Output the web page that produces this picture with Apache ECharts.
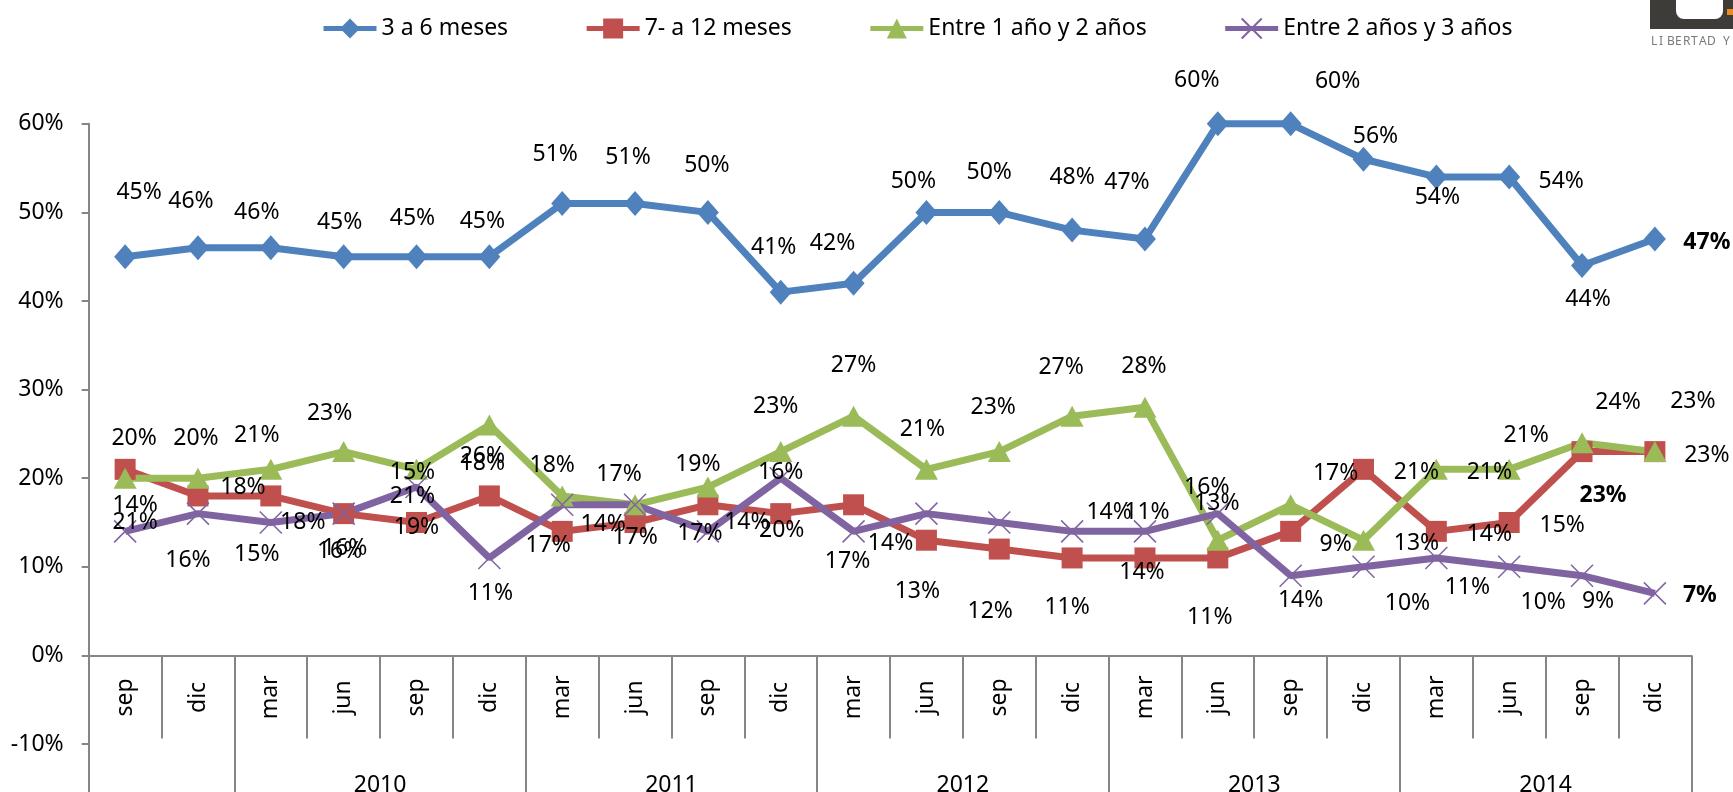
<!DOCTYPE html>
<html>
<head>
<meta charset="utf-8">
<title>Duración</title>
<script src="https://cdn.jsdelivr.net/npm/echarts@6/dist/echarts.min.js"></script>
<style>
html, body { margin: 0; padding: 0; background: #fff; }
#chart { width: 1733px; height: 792px; }
</style>
</head>
<body>
<div id="chart"></div>
<script>
// categorías (trimestres) y agrupación por año
const months = ['sep', 'dic', 'mar', 'jun', 'sep', 'dic', 'mar', 'jun', 'sep', 'dic', 'mar', 'jun',
  'sep', 'dic', 'mar', 'jun', 'sep', 'dic', 'mar', 'jun', 'sep', 'dic']
const yearNames = ['', '2010', '2011', '2012', '2013', '2014']
const yearSpans = [2, 4, 4, 4, 4, 4]

// series (%)
const seriesNames = ['3 a 6 meses', '7- a 12 meses', 'Entre 1 año y 2 años', 'Entre 2 años y 3 años']
const meses3a6 = [45, 46, 46, 45, 45, 45, 51, 51, 50, 41, 42, 50, 50, 48, 47, 60, 60, 56, 54, 54, 44, 47]
const meses7a12 = [21, 18, 18, 16, 15, 18, 14, 15, 17, 16, 17, 13, 12, 11, 11, 11, 14, 21, 14, 15, 23, 23]
const entre1y2 = [20, 20, 21, 23, 21, 26, 18, 17, 19, 23, 27, 21, 23, 27, 28, 13, 17, 13, 21, 21, 24, 23]
const entre2y3 = [14, 16, 15, 16, 19, 11, 17, 17, 14, 20, 14, 16, 15, 14, 14, 16, 9, 10, 11, 10, 9, 7]

// eje y: parte superior (datos) y prolongación bajo el 0
const yMax = 60
const yZero = 0
const yLow = -20
const yStep = 10

// colocación de etiquetas (px respecto al punto), null = sin etiqueta
const blueLabelPos = [[14, -66], [-7, -48], [-14, -37], [-4, -36], [-4, -40], [-7, -37], [-7, -51], [-7, -48],
  [-1, -49], [-7, -47], [-21, -42], [-13, -33], [-10, -42], [0, -55], [-18, -59], [-21, -45], [47, -44],
  [12, -25], [1, 18], [52, 2], [6, 32], [52, 1]]
const redLabelPos = [[10, 51], [45, -10], [32, 25], [-4, 36], [-4, -52], [-7, -34], [41, -9], null, [-8, 27],
  [0, -43], [-6, 55], [-9, 49], [-9, 60], [-5, 48], [2, -47], [-8, 58], [10, 67], [53, 1], [53, 1], [53, 1],
  [21, 42], [52, 2]]
const greenLabelPos = [[9, -42], [-2, -42], [-14, -36], [-14, -40], [-4, 25], [-7, 29], [-10, -32], [-16, -32],
  [-10, -25], [-5, -47], [0, -53], [-4, -42], [-6, -46], [-11, -51], [-1, -43], [-1, -39], [45, -33], [53, 1],
  [53, 1], [17, -36], [36, -42], [38, -52]]
const purpleLabelPos = [[10, -28], [-10, 45], [-14, 30], [1, 33], [0, 38], [1, 34], [-14, 39], [0, 31], [39, -11],
  [1, 50], [37, 10], null, null, [37, -21], [-3, 39], [-11, -28], [45, -33], [44, 35], [31, 28], [34, 34],
  [16, 24], [45, 0]]

const FONT = 'Noto Sans'
const AXIS_GRAY = '#868686'
const UNIT = 88.6 // px por 10%
const PLOT_LEFT = 88.7
const PLOT_RIGHT = 41.7
const PLOT_TOP = 123.8
const ZERO_Y = PLOT_TOP + (yMax - yZero) / yStep * UNIT
const TEXT_NUDGE = 2 // los dígitos de Noto quedan algo altos con 'middle'

// eje de años: puntos en los límites (23), etiqueta en el centro de cada grupo
const yearBounds = [0]
yearSpans.forEach(n => yearBounds.push(yearBounds[yearBounds.length - 1] + n))
const yearAxisData = Array(months.length + 1).fill('')
yearNames.forEach((name, k) => { yearAxisData[yearBounds[k] + yearSpans[k] / 2] = name })

function buildData(values, labelPos, boldIdx) {
  return values.map((v, i) => {
    const pos = labelPos[i]
    if (!pos) return { value: v, label: { show: false } }
    return {
      value: v,
      label: { offset: [pos[0], pos[1] + TEXT_NUDGE], fontWeight: i === boldIdx ? 'bold' : 'normal' }
    }
  })
}

function makeSeries(name, values, labelPos, color, symbol, symbolSize, boldIdx, extraItem) {
  return {
    name,
    type: 'line',
    xAxisIndex: 0,
    yAxisIndex: 0,
    data: buildData(values, labelPos, boldIdx),
    symbol,
    symbolSize,
    showAllSymbol: true,
    clip: false,
    lineStyle: { color, width: 7 },
    itemStyle: Object.assign({ color }, extraItem || {}),
    label: {
      show: true,
      position: 'inside',
      formatter: '{c}%',
      align: 'center',
      verticalAlign: 'middle',
      color: '#000',
      fontSize: 23,
      fontFamily: FONT
    },
    emphasis: { disabled: true }
  }
}

const yAxisBase = {
  type: 'value',
  interval: yStep,
  axisLine: { show: true, lineStyle: { color: AXIS_GRAY, width: 2 } },
  axisTick: { show: true, length: 7, lineStyle: { color: AXIS_GRAY, width: 2 } },
  axisLabel: {
    formatter: '{value}%',
    margin: 25,
    color: '#000',
    fontSize: 23,
    fontFamily: FONT,
    padding: [TEXT_NUDGE * 2, 0, 0, 0]
  },
  splitLine: { show: false }
}

const chart = echarts.init(document.getElementById('chart'))

const logoLetters = 'LIBERTAD Y'.split('').map((ch, i) => ({
  type: 'text',
  x: 1651 + i * 8,
  y: 36,
  style: { text: ch, fill: '#7a7a7a', fontSize: 12, fontFamily: FONT }
}))

const option = {
  animation: false,
  textStyle: { fontFamily: FONT },
  legend: {
    data: seriesNames,
    left: 316,
    top: 12,
    itemWidth: 53,
    itemHeight: 25,
    itemGap: 76,
    lineStyle: { width: 5 },
    textStyle: { fontSize: 23, color: '#000', fontFamily: FONT }
  },
  grid: [
    {
      left: PLOT_LEFT,
      right: PLOT_RIGHT,
      top: PLOT_TOP,
      height: ZERO_Y - PLOT_TOP,
      outerBoundsMode: 'none',
      containLabel: false
    },
    {
      left: PLOT_LEFT,
      right: PLOT_RIGHT,
      top: ZERO_Y,
      height: (yZero - yLow) / yStep * UNIT,
      outerBoundsMode: 'none',
      containLabel: false
    }
  ],
  xAxis: [
    {
      type: 'category',
      gridIndex: 0,
      data: months,
      position: 'bottom',
      axisLine: { show: true, lineStyle: { color: AXIS_GRAY, width: 2 } },
      axisTick: { show: true, interval: 0, length: 83, lineStyle: { color: AXIS_GRAY, width: 2 } },
      axisLabel: {
        interval: 0,
        rotate: 90,
        align: 'center',
        verticalAlign: 'middle',
        margin: 42,
        color: '#000',
        fontSize: 23,
        fontFamily: FONT
      },
      splitLine: { show: false }
    },
    {
      type: 'category',
      gridIndex: 1,
      data: yearAxisData,
      position: 'top',
      boundaryGap: false,
      axisLine: { show: false },
      axisTick: {
        show: true,
        inside: true,
        length: 150,
        interval: idx => yearBounds.indexOf(idx) >= 0,
        lineStyle: { color: AXIS_GRAY, width: 2 }
      },
      axisLabel: {
        inside: true,
        interval: idx => yearAxisData[idx] !== '',
        margin: 130,
        align: 'center',
        verticalAlign: 'middle',
        color: '#000',
        fontSize: 23,
        fontFamily: FONT
      },
      splitLine: { show: false }
    }
  ],
  yAxis: [
    Object.assign({}, yAxisBase, { gridIndex: 0, min: yZero, max: yMax }),
    Object.assign({}, yAxisBase, {
      gridIndex: 1,
      min: yLow,
      max: yZero,
      axisLabel: Object.assign({}, yAxisBase.axisLabel, { showMaxLabel: false })
    })
  ],
  series: [
    makeSeries(seriesNames[0], meses3a6, blueLabelPos, '#4F81BD', 'diamond', [22, 25], 21),
    makeSeries(seriesNames[1], meses7a12, redLabelPos, '#C0504D', 'rect', 21, 20),
    makeSeries(seriesNames[2], entre1y2, greenLabelPos, '#9BBB59', 'triangle', [23, 21], -1),
    makeSeries(seriesNames[3], entre2y3, purpleLabelPos, '#8064A2', 'path://M0,0L20,20M20,0L0,20', 22, 21,
      { borderColor: '#8064A2', borderWidth: 1.5 })
  ],
  graphic: [
    { type: 'rect', shape: { x: 1650, y: 0, width: 83, height: 29 }, style: { fill: '#3e3c38' } },
    { type: 'rect', shape: { x: 1676, y: -10, width: 47, height: 29, r: 8 }, style: { fill: '#fff' } },
    { type: 'rect', shape: { x: 1727, y: 9, width: 6, height: 6 }, style: { fill: '#f08a1c' } }
  ].concat(logoLetters)
}

chart.setOption(option)
window.addEventListener('resize', () => chart.resize())
</script>
</body>
</html>
